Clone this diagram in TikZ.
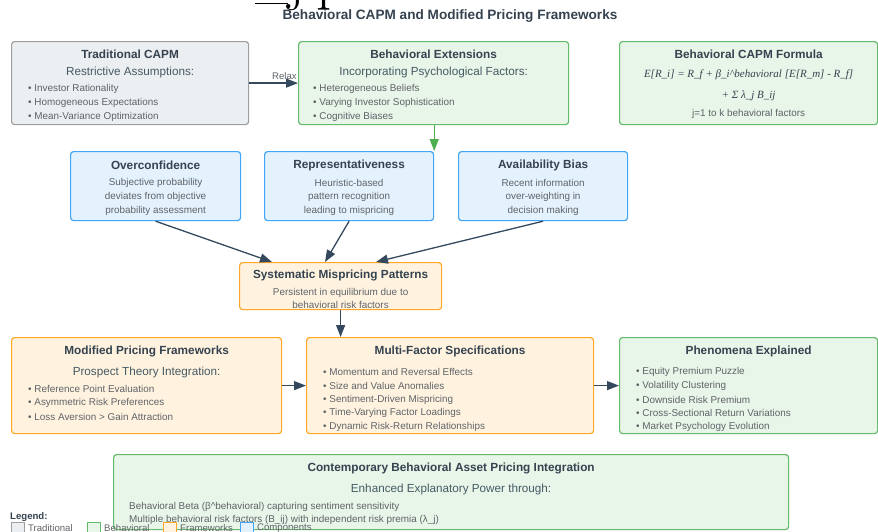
\documentclass[tikz,border=0pt]{standalone}
\usepackage{fontspec}
\setsansfont{Liberation Sans}
\newfontfamily\formulafont{Liberation Serif}
\renewcommand{\familydefault}{\sfdefault}
\usetikzlibrary{arrows.meta,calc}

\definecolor{tradfill}{HTML}{ECEFF1}
\definecolor{tradline}{HTML}{9E9E9E}
\definecolor{behfill}{HTML}{E8F5E9}
\definecolor{behline}{HTML}{66BB6A}
\definecolor{frmfill}{HTML}{FFF3E0}
\definecolor{frmline}{HTML}{FFA726}
\definecolor{cmpfill}{HTML}{E3F2FD}
\definecolor{cmpline}{HTML}{42A5F5}
\definecolor{headtext}{HTML}{34434F}
\definecolor{subtext}{HTML}{455A64}
\definecolor{bodytext}{HTML}{5F6368}
\definecolor{arrowc}{HTML}{34495E}
\definecolor{greenarrow}{HTML}{4CAF50}

\tikzset{
  panel/.style={rounded corners=3pt, line width=1.2pt, anchor=north west, inner sep=0pt},
  tradbox/.style={panel, draw=tradline, fill=tradfill},
  behbox/.style={panel, draw=behline, fill=behfill},
  frmbox/.style={panel, draw=frmline, fill=frmfill},
  cmpbox/.style={panel, draw=cmpline, fill=cmpfill},
  boxtitle/.style={font=\fontsize{11.8}{13}\selectfont\bfseries, text=headtext, inner sep=0pt},
  boxsub/.style={font=\fontsize{11.7}{13}\selectfont, text=subtext, inner sep=0pt},
  item/.style={font=\fontsize{9.9}{11}\selectfont, text=bodytext, anchor=west, inner sep=0pt},
  centred/.style={font=\fontsize{9.9}{11}\selectfont, text=bodytext, inner sep=0pt},
  formula/.style={font=\fontsize{11}{12}\formulafont\itshape, text=headtext, inner sep=0pt},
  flow/.style={draw=arrowc, line width=1.3pt, -{Triangle[length=12pt,width=9pt]}},
  greenflow/.style={draw=greenarrow, line width=1.3pt, -{Triangle[length=12pt,width=9pt]}},
  keybox/.style={anchor=north west, minimum width=13pt, minimum height=13pt, inner sep=0pt, line width=0.9pt},
  keytext/.style={font=\fontsize{9.6}{11}\selectfont, text=bodytext, anchor=west, inner sep=0pt},
  bigserif/.style={inner sep=0pt, anchor=base, font=\rmfamily\fontsize{60}{60}\selectfont},
}

\begin{document}
\begin{tikzpicture}[x=1pt, y=-1pt]
\useasboundingbox (0,0) rectangle (878,531);

% fragments of large serif lettering along the top edge
\node[inner sep=0pt, fill=black, minimum width=33pt, minimum height=1.3pt] (topbar) at (271.5,3.5) {};
\node[bigserif] (topj) at (297,-2) {j};
\node[bigserif] (topp) at (331.5,-2) {p};

% heading
\node[font=\fontsize{13.6}{15}\selectfont\bfseries, text=headtext, inner sep=0pt] (title) at (450,16)
  {Behavioral CAPM and Modified Pricing Frameworks};

% ---- first row ----
\node[tradbox, minimum width=237pt, minimum height=83pt] (trad) at (11,41) {};
\node[boxtitle] (tradT) at ($(trad.north)+(0,13)$) {Traditional CAPM};
\node[boxsub] (tradS) at ($(trad.north)+(0,31)$) {Restrictive Assumptions:};
\node[item] (trad1) at ($(trad.north west)+(17,48)$) {• Investor Rationality};
\node[item] (trad2) at ($(trad.north west)+(17,62)$) {• Homogeneous Expectations};
\node[item] (trad3) at ($(trad.north west)+(17,76)$) {• Mean-Variance Optimization};

\node[keytext] (relax) at (272,76) {Relax};

\node[behbox, minimum width=270pt, minimum height=83pt] (beh) at (298,41) {};
\node[boxtitle] (behT) at ($(beh.north)+(0,13)$) {Behavioral Extensions};
\node[boxsub] (behS) at ($(beh.north)+(0,31)$) {Incorporating Psychological Factors:};
\node[item] (beh1) at ($(beh.north west)+(15,48)$) {• Heterogeneous Beliefs};
\node[item] (beh2) at ($(beh.north west)+(15,62)$) {• Varying Investor Sophistication};
\node[item] (beh3) at ($(beh.north west)+(15,76)$) {• Cognitive Biases};

\node[behbox, minimum width=258pt, minimum height=83pt] (form) at (619,41) {};
\node[boxtitle] (formT) at ($(form.north)+(0,13)$) {Behavioral CAPM Formula};
\node[formula] (form1) at ($(form.north)+(0,34)$) {E[R\_i] = R\_f + β\_i\textasciicircum behavioral [E[R\_m] - R\_f]};
\node[formula] (form2) at ($(form.north)+(0,55)$) {+ Σ λ\_j B\_ij};
\node[centred] (form3) at ($(form.north)+(0,73)$) {j=1 to k behavioral factors};

% ---- cognitive biases ----
\node[cmpbox, minimum width=170pt, minimum height=69pt] (over) at (70,151) {};
\node[boxtitle] (overT) at ($(over.north)+(0,14)$) {Overconfidence};
\node[centred] (over1) at ($(over.north)+(0,32)$) {Subjective probability};
\node[centred] (over2) at ($(over.north)+(0,46)$) {deviates from objective};
\node[centred] (over3) at ($(over.north)+(0,60)$) {probability assessment};

\node[cmpbox, minimum width=169pt, minimum height=69pt] (rep) at (264,151) {};
\node[boxtitle] (repT) at ($(rep.north)+(0,14)$) {Representativeness};
\node[centred] (rep1) at ($(rep.north)+(0,32)$) {Heuristic-based};
\node[centred] (rep2) at ($(rep.north)+(0,46)$) {pattern recognition};
\node[centred] (rep3) at ($(rep.north)+(0,60)$) {leading to mispricing};

\node[cmpbox, minimum width=169pt, minimum height=69pt] (avail) at (458,151) {};
\node[boxtitle] (availT) at ($(avail.north)+(0,14)$) {Availability Bias};
\node[centred] (avail1) at ($(avail.north)+(0,32)$) {Recent information};
\node[centred] (avail2) at ($(avail.north)+(0,46)$) {over-weighting in};
\node[centred] (avail3) at ($(avail.north)+(0,60)$) {decision making};

% ---- mispricing ----
\node[frmbox, minimum width=202pt, minimum height=47pt] (sys) at (239,262) {};
\node[boxtitle] (sysT) at ($(sys.north)+(0,13)$) {Systematic Mispricing Patterns};
\node[centred] (sys1) at ($(sys.north)+(0,31)$) {Persistent in equilibrium due to};
\node[centred] (sys2) at ($(sys.north)+(0,43)$) {behavioral risk factors};

% ---- third row ----
\node[frmbox, minimum width=270pt, minimum height=96pt] (mod) at (11,337) {};
\node[boxtitle] (modT) at ($(mod.north)+(0,14)$) {Modified Pricing Frameworks};
\node[boxsub] (modS) at ($(mod.north)+(0,35)$) {Prospect Theory Integration:};
\node[item] (mod1) at ($(mod.north west)+(17,52)$) {• Reference Point Evaluation};
\node[item] (mod2) at ($(mod.north west)+(17,66)$) {• Asymmetric Risk Preferences};
\node[item] (mod3) at ($(mod.north west)+(17,80)$) {• Loss Aversion > Gain Attraction};

\node[frmbox, minimum width=287pt, minimum height=96pt] (multi) at (306,337) {};
\node[boxtitle] (multiT) at ($(multi.north)+(0,14)$) {Multi-Factor Specifications};
\node[item] (multi1) at ($(multi.north west)+(17,35)$) {• Momentum and Reversal Effects};
\node[item] (multi2) at ($(multi.north west)+(17,49)$) {• Size and Value Anomalies};
\node[item] (multi3) at ($(multi.north west)+(17,63)$) {• Sentiment-Driven Mispricing};
\node[item] (multi4) at ($(multi.north west)+(17,76)$) {• Time-Varying Factor Loadings};
\node[item] (multi5) at ($(multi.north west)+(17,90)$) {• Dynamic Risk-Return Relationships};

\node[behbox, minimum width=258pt, minimum height=96pt] (phen) at (619,337) {};
\node[boxtitle] (phenT) at ($(phen.north)+(0,14)$) {Phenomena Explained};
\node[item] (phen1) at ($(phen.north west)+(17,35)$) {• Equity Premium Puzzle};
\node[item] (phen2) at ($(phen.north west)+(17,49)$) {• Volatility Clustering};
\node[item] (phen3) at ($(phen.north west)+(17,63)$) {• Downside Risk Premium};
\node[item] (phen4) at ($(phen.north west)+(17,76)$) {• Cross-Sectional Return Variations};
\node[item] (phen5) at ($(phen.north west)+(17,90)$) {• Market Psychology Evolution};

% ---- integration ----
\node[behbox, minimum width=675pt, minimum height=75pt] (integ) at (113,454) {};
\node[boxtitle] (integT) at ($(integ.north)+(0,14)$) {Contemporary Behavioral Asset Pricing Integration};
\node[boxsub] (integS) at ($(integ.north)+(0,35)$) {Enhanced Explanatory Power through:};
\node[item] (integ1) at ($(integ.north west)+(16,53)$) {Behavioral Beta (β\textasciicircum behavioral) capturing sentiment sensitivity};
\node[item] (integ2) at ($(integ.north west)+(16,66)$) {Multiple behavioral risk factors (B\_ij) with independent risk premia (λ\_j)};

% ---- connectors ----
\draw[flow] (trad) -- (beh);
\draw[greenflow] (beh.south -| rep.north east) -- (rep.north east);
\draw[flow] (over.south) -- ($(sys.north west)+(33,0)$);
\draw[flow] (rep.south) -- ($(sys.north west)+(86,0)$);
\draw[flow] (avail.south) -- ($(sys.north west)+(137,0)$);
\draw[flow] (sys.south) -- (sys.south |- multi.north);
\draw[flow] (mod) -- (multi);
\draw[flow] (multi) -- (phen);

% ---- legend ----
\node[keytext, font=\fontsize{9.6}{11}\selectfont\bfseries, text=headtext] (legT) at (10,517) {Legend:};
\node[keybox, draw=tradline, fill=tradfill] (keyA) at (11,522) {};
\node[keytext] (keyAt) at (28,528.5) {Traditional};
\node[keybox, draw=behline, fill=behfill] (keyB) at (87,522) {};
\node[keytext] (keyBt) at (104,528.5) {Behavioral};
\node[keybox, draw=frmline, fill=frmfill] (keyC) at (163,522) {};
\node[keytext] (keyCt) at (180,528.5) {Frameworks};
\node[keybox, draw=cmpline, fill=cmpfill] (keyD) at (240,522) {};
\node[keytext] (keyDt) at (257,528.5) {Components};
\end{tikzpicture}
\end{document}
